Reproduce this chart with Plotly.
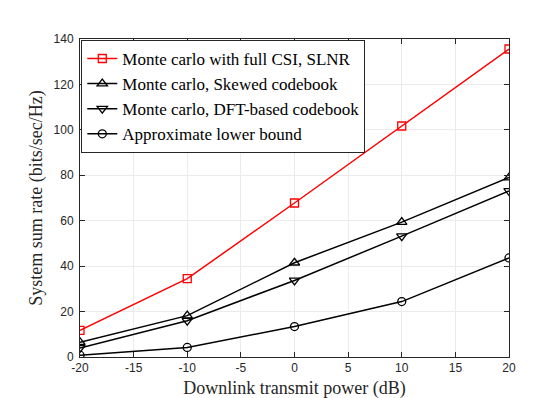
import plotly.graph_objects as go

power_db = [-20, -10, 0, 10, 20]
full_csi = [11.7, 34.5, 67.8, 101.7, 135.6]
skewed = [6.5, 18.2, 41.5, 59.4, 79.0]
dft_based = [4.0, 16.0, 33.7, 53.2, 73.1]
lower_bound = [0.8, 4.2, 13.4, 24.4, 43.6]

x_tick_vals = [-20, -15, -10, -5, 0, 5, 10, 15, 20]
x_tick_text = ["-20", "-15", "-10", "-5", "0", "5", "10", "15", "20"]
y_tick_vals = [0, 20, 40, 60, 80, 100, 120, 140]

series = [
    ("Monte carlo with full CSI, SLNR", full_csi, "#ff0000", "square-open", 8),
    ("Monte carlo, Skewed codebook", skewed, "#000000", "triangle-up-open", 9),
    ("Monte carlo, DFT-based codebook", dft_based, "#000000", "triangle-down-open", 9),
    ("Approximate lower bound", lower_bound, "#000000", "circle-open", 8),
]

fig = go.Figure()
for name, values, color, symbol, size in series:
    fig.add_trace(
        go.Scatter(
            x=power_db,
            y=values,
            mode="lines+markers",
            name=name,
            line={"color": color, "width": 1.5},
            marker={"symbol": symbol, "size": size, "color": color, "line": {"width": 1.3, "color": color}},
        )
    )

axis_common = dict(
    showline=True,
    linecolor="#262626",
    linewidth=1,
    mirror="ticks",
    ticks="inside",
    ticklen=5,
    tickcolor="#262626",
    showgrid=True,
    gridcolor="#ebebeb",
    gridwidth=1,
    zeroline=False,
    tickfont={"family": "Liberation Sans, Arial", "size": 12, "color": "#262626"},
    title_font={"family": "Liberation Serif, Times New Roman", "size": 18, "color": "#262626"},
)

fig.update_xaxes(
    range=[-20, 20],
    tickvals=x_tick_vals,
    ticktext=x_tick_text,
    title_text="Downlink transmit power (dB)",
    title_standoff=6,
    **axis_common,
)
fig.update_yaxes(
    range=[0, 140],
    tickvals=y_tick_vals,
    title_text="System sum rate (bits/sec/Hz)",
    title_standoff=6,
    ticklabelstandoff=3,
    **axis_common,
)

fig.update_layout(
    width=554,
    height=398,
    margin={"l": 72, "r": 53, "t": 31, "b": 44},
    plot_bgcolor="white",
    paper_bgcolor="white",
    legend={
        "x": 0.003,
        "y": 0.997,
        "xanchor": "left",
        "yanchor": "top",
        "bgcolor": "white",
        "bordercolor": "#262626",
        "borderwidth": 1,
        "font": {"family": "Liberation Serif, Times New Roman", "size": 17, "color": "#000000"},
        "tracegroupgap": 0,
        "itemwidth": 30,
    },
)

fig.write_html("out.html")
